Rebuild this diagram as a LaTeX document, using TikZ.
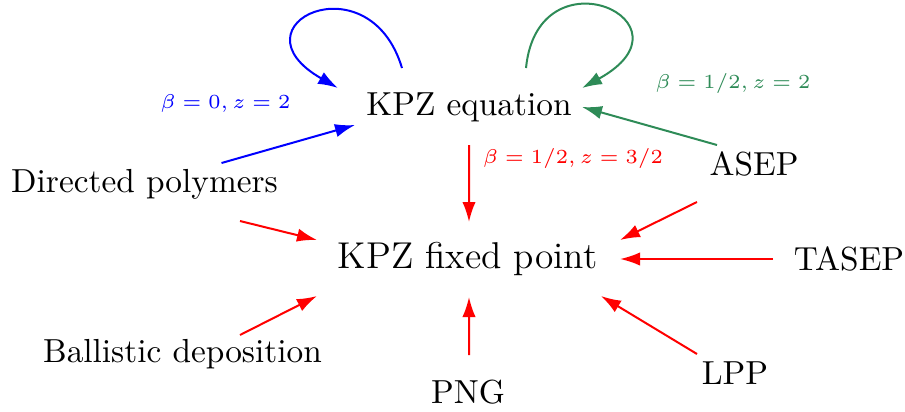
\documentclass[tikz,border=0pt]{standalone}
\usetikzlibrary{arrows.meta}
\definecolor{kgreen}{RGB}{46,139,87}
\begin{document}
\begin{tikzpicture}[x=0.3pt,y=-0.3pt,
  lbl/.style={font=\fontsize{10}{12}\selectfont, inner sep=0pt, anchor=base},
  big/.style={font=\fontsize{11.2}{13}\selectfont, inner sep=0pt, anchor=base},
  caplbl/.style={font=\fontsize{6.2}{7.5}\selectfont, inner sep=0pt, anchor=base},
  arr/.style={-{Latex[length=6pt,width=4pt]}, line width=0.6pt}]
\useasboundingbox (0,0) rectangle (905,412);
% nodes
\node[lbl] (eq) at (469,115) {KPZ equation};
\node[big] (fix) at (467.5,268) {KPZ fixed point};
\node[lbl] (dp) at (144.5,192) {Directed polymers};
\node[lbl] (asep) at (754,175) {ASEP};
\node[lbl] (tasep) at (849,270) {TASEP};
\node[lbl] (bd) at (182.5,362) {Ballistic deposition};
\node[lbl] (png) at (468,403) {PNG};
\node[lbl] (lpp) at (735,384) {LPP};
\node[caplbl, text=blue] (lblue) at (225.5,108) {$\beta=0, z=2$};
\node[caplbl, text=kgreen] (lgreen) at (733,88) {$\beta=1/2, z=2$};
\node[caplbl, text=red] (lred) at (573,163) {$\beta=1/2, z=3/2$};
% blue connectors
\draw[arr, blue] ([shift={(-67,-47)}]eq.base) .. controls ([shift={(-100,-157)}]eq.base) and ([shift={(-241,-90)}]eq.base) .. ([shift={(-131,-27)}]eq.base);
\draw[arr, blue] ([shift={(77,-29)}]dp.base) -- ([shift={(-114,10)}]eq.base);
% green connectors
\draw[arr, kgreen] ([shift={(57,-47)}]eq.base) .. controls ([shift={(69,-167)}]eq.base) and ([shift={(233,-93)}]eq.base) .. ([shift={(113,-27)}]eq.base);
\draw[arr, kgreen] ([shift={(-37,-30)}]asep.base) -- ([shift={(113,-8)}]eq.base);
% red connectors
\draw[arr, red] ([shift={(0,30)}]eq.base) -- ([shift={(1.5,-46)}]fix.base);
\draw[arr, red] ([shift={(-57,27)}]asep.base) -- ([shift={(152.5,-28)}]fix.base);
\draw[arr, red] ([shift={(-76,-11)}]tasep.base) -- ([shift={(152.5,-9)}]fix.base);
\draw[arr, red] ([shift={(95.5,29)}]dp.base) -- ([shift={(-150.5,-28)}]fix.base);
\draw[arr, red] ([shift={(57.5,-27)}]bd.base) -- ([shift={(-150.5,28)}]fix.base);
\draw[arr, red] ([shift={(1,-48)}]png.base) -- ([shift={(1.5,29)}]fix.base);
\draw[arr, red] ([shift={(-38,-30)}]lpp.base) -- ([shift={(133.5,28)}]fix.base);
\end{tikzpicture}
\end{document}
